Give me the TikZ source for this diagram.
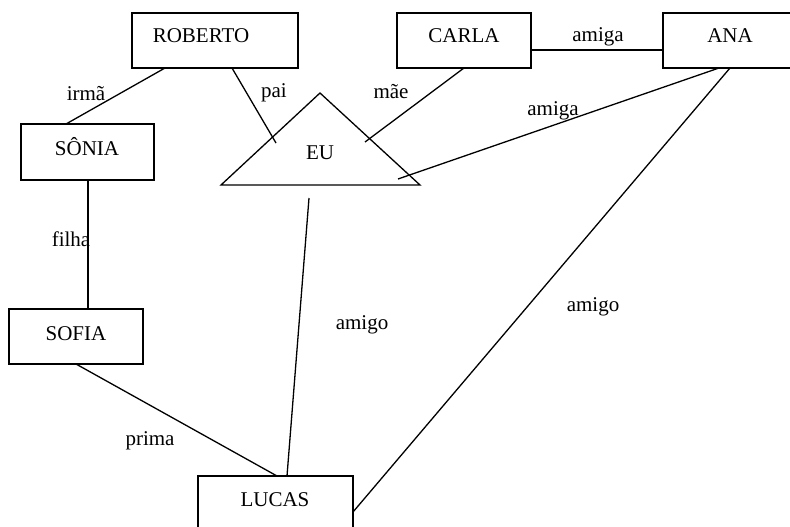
\documentclass[tikz,border=0pt]{standalone}
\usepackage{fontspec}
\setmainfont{Liberation Serif}
\usetikzlibrary{calc}
\begin{document}
\begin{tikzpicture}[x=1pt,y=-1pt,
  box/.style={draw, line width=1.3pt, inner sep=0pt, outer sep=0pt, anchor=north west},
  txt/.style={anchor=base, inner sep=0pt, font=\fontsize{21}{25}\selectfont},
  link/.style={line width=1.3pt}]
\useasboundingbox (0,0) rectangle (790,527);
% boxes
\node[box, minimum width=166pt, minimum height=55pt] (roberto) at (132,13) {};
\node[box, minimum width=134pt, minimum height=55pt] (carla) at (397,13) {};
\node[box, minimum width=134pt, minimum height=55pt] (ana) at (663,13) {};
\node[box, minimum width=133pt, minimum height=56pt] (sonia) at (21,124) {};
\node[box, minimum width=134pt, minimum height=55pt] (sofia) at (9,309) {};
\node[box, minimum width=155pt, minimum height=55pt] (lucas) at (198,476) {};
% triangle EU
\coordinate (apex) at (320,93);
\coordinate (bl) at (221,185);
\coordinate (br) at (420,185);
\draw[link, line join=miter] (bl) -- (apex) -- (br) -- cycle;
\coordinate (euPai) at (276,143);
\coordinate (euMae) at (365,142);
\coordinate (euAmiga) at (398,179);
\coordinate (euAmigo) at (309,198);
% texts
\node[txt] (tRoberto) at (201,43) {ROBERTO};
\node[txt] (tCarla) at (464,43) {CARLA};
\node[txt] (tAna) at (730,43) {ANA};
\node[txt] (tSonia) at (87,155) {SÔNIA};
\node[txt] (tSofia) at (76,340) {SOFIA};
\node[txt] (tLucas) at (275,506) {LUCAS};
\node[txt] (tEu) at (320,159) {EU};
% connectors
\draw[link] ($(roberto.south west)+(33,0)$) -- ($(sonia.north west)+(45,0)$);
\draw[link] ($(roberto.south west)+(100,0)$) -- (euPai);
\draw[link] (carla.south) -- (euMae);
\draw[link] ($(carla.south east)+(0,-18)$) -- ($(ana.south west)+(0,-18)$);
\draw[link] ($(ana.south west)+(56,0)$) -- (euAmiga);
\draw[link] ($(ana.south west)+(67,0)$) -- ($(lucas.north east)+(0,36)$);
\draw[link] (euAmigo) -- ($(lucas.north west)+(89,0)$);
\draw[link] ($(sonia.south west)+(67,0)$) -- ($(sofia.north west)+(79,0)$);
\draw[link] (sofia.south) -- ($(lucas.north west)+(79,0)$);
% labels
\node[txt] (lIrma) at (86,100) {irmã};
\node[txt] (lPai) at (274,98) {pai};
\node[txt] (lMae) at (391,99) {mãe};
\node[txt] (lAmiga1) at (598,42) {amiga};
\node[txt] (lAmiga2) at (553,115) {amiga};
\node[txt] (lFilha) at (71,246) {filha};
\node[txt] (lAmigo1) at (362,329) {amigo};
\node[txt] (lAmigo2) at (593,311) {amigo};
\node[txt] (lPrima) at (150,445) {prima};
\end{tikzpicture}
\end{document}
